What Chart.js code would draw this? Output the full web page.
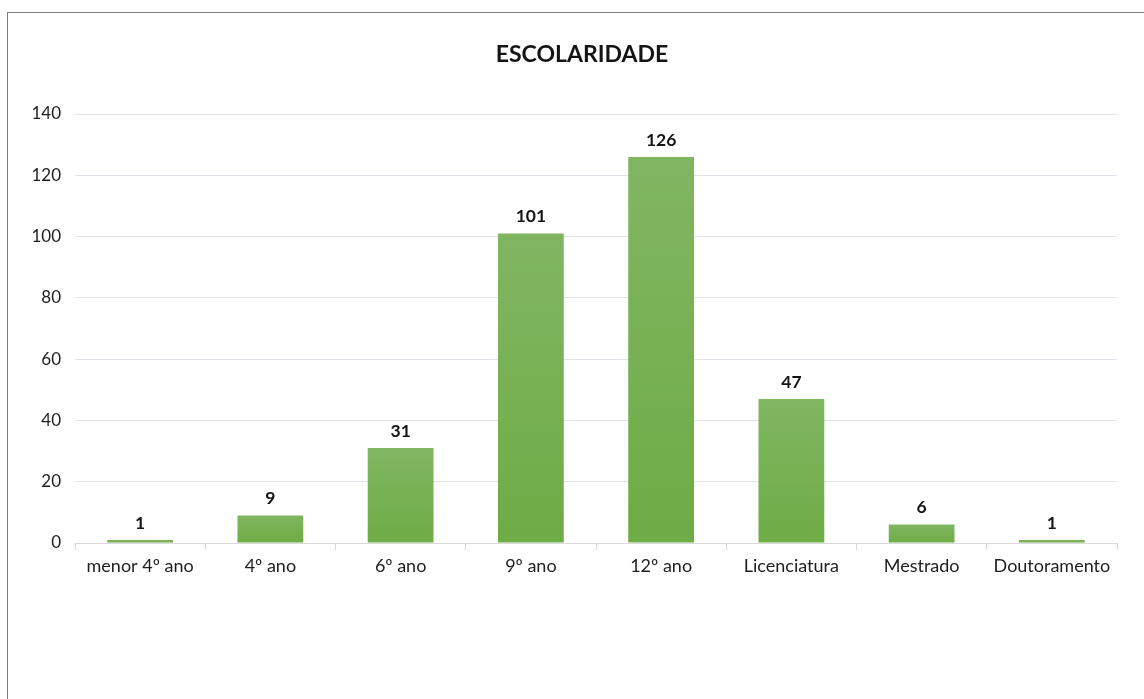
<!DOCTYPE html>
<html>
<head>
<meta charset="utf-8">
<script src="https://cdn.jsdelivr.net/npm/chart.js@4"></script>
<style>
  html, body { margin: 0; padding: 0; background: #fff; overflow: hidden; }
  #frame { position: absolute; left: 7px; top: 12px; width: 1200px; height: 800px;
           border-left: 1px solid #7f7f7f; border-top: 1px solid #7f7f7f; }
  #wrap { position: absolute; left: 0; top: 0; width: 1144px; height: 699px; }
</style>
</head>
<body>
<div id="frame"></div>
<div id="wrap"><canvas id="myChart"></canvas></div>
<script>
const ctx = document.getElementById("myChart").getContext("2d");

const labels = ["menor 4º ano", "4º ano", "6º ano", "9º ano", "12º ano", "Licenciatura", "Mestrado", "Doutoramento"];
const values = [1, 9, 31, 101, 126, 47, 6, 1];
const yTicks = [0, 20, 40, 60, 80, 100, 120, 140];
const titleText = "ESCOLARIDADE";

const FONT = "Lato, 'Open Sans', sans-serif";

// gradiente verde por barra (mais claro em cima)
function barGradient(context) {
  const chart = context.chart;
  const yScale = chart.scales.y;
  if (!yScale || context.parsed == null) return "#70ad47";
  const top = yScale.getPixelForValue(context.parsed.y);
  const base = yScale.getPixelForValue(0);
  if (!isFinite(top) || !isFinite(base) || top === base) return "#70ad47";
  const g = chart.ctx.createLinearGradient(0, top, 0, base);
  g.addColorStop(0, "#80b662");
  g.addColorStop(1, "#6eac45");
  return g;
}

// rótulos de valor por cima das barras + título
const valueLabels = {
  id: "valueLabels",
  afterDatasetsDraw(chart) {
    const c = chart.ctx;
    const meta = chart.getDatasetMeta(0);
    c.save();
    c.font = "bold 17.5px " + FONT;
    c.fillStyle = "#141414";
    c.textAlign = "center";
    c.textBaseline = "middle";
    meta.data.forEach((bar, i) => {
      c.fillText(String(values[i]), bar.x, bar.y - 17);
    });
    // título (centrado um pouco à esquerda do centro da área do gráfico, como no original)
    const area = chart.chartArea;
    c.font = "bold 23px " + FONT;
    c.fillText(titleText, (area.left + area.right) / 2 - 14, 55);
    c.restore();
  },
};

const data = {
  labels: labels,
  datasets: [
    {
      data: values,
      backgroundColor: barGradient,
      barPercentage: 0.505,
      categoryPercentage: 1,
    },
  ],
};

const config = {
  type: "bar",
  data: data,
  options: {
    responsive: true,
    maintainAspectRatio: false,
    animation: false,
    layout: { padding: { left: 10, right: 27, top: 114, bottom: 116 } },
    plugins: {
      legend: { display: false },
      tooltip: { enabled: false },
      title: { display: false },
    },
    scales: {
      x: {
        offset: true,
        afterFit(scale) { scale.height = 40; },
        grid: {
          offset: true,
          drawOnChartArea: false,
          drawTicks: true,
          tickLength: 7,
          color: "#d9d9d9",
        },
        border: { display: true, color: "#d9d9d9", width: 1 },
        ticks: {
          color: "#1e1e1e",
          padding: 5,
          maxRotation: 0,
          font: { family: FONT, size: 18 },
        },
      },
      y: {
        min: 0,
        max: 140,
        afterFit(scale) { scale.width = 65; },
        afterBuildTicks(scale) { scale.ticks = yTicks.map((v) => ({ value: v })); },
        grid: { color: "#dfe3ea", drawTicks: false },
        border: { display: false },
        ticks: {
          color: "#1e1e1e",
          padding: 14,
          font: { family: FONT, size: 17 },
        },
      },
    },
  },
  plugins: [valueLabels],
};

new Chart(ctx, config);
</script>
</body>
</html>
